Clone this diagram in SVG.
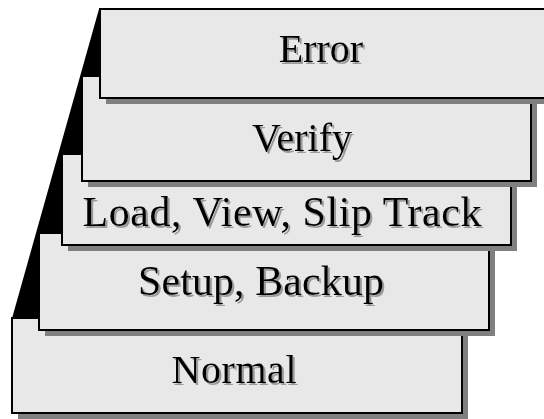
<svg xmlns="http://www.w3.org/2000/svg" width="544" height="419" viewBox="0 0 544 419">
<style>
.box{fill:#e8e8e8;stroke:#000;stroke-width:2}
.shadow{fill:#808080}
</style>
<defs>
<filter id="tsh" x="-10%" y="-20%" width="130%" height="150%">
<feOffset in="SourceAlpha" dx="2" dy="2" result="o"/>
<feFlood flood-color="#9a9a9a"/>
<feComposite in2="o" operator="in" result="s"/>
<feMerge><feMergeNode in="s"/><feMergeNode in="SourceGraphic"/></feMerge>
</filter>
</defs>
<rect width="544" height="419" fill="#fff"/>
<polygon id="wedge" points="99,9 11,322 100,322" fill="#000"/>
<g font-family="Liberation Serif, Times New Roman, DejaVu Serif, serif" font-size="40" text-anchor="middle" fill="#000">
<g id="normal">
<rect class="shadow" x="18" y="324" width="450" height="95"/>
<rect class="box" x="12" y="318" width="450" height="95"/>
<text x="234" y="383" filter="url(#tsh)" textLength="125">Normal</text>
</g>
<g id="setup">
<rect class="shadow" x="45" y="239" width="450" height="97"/>
<rect class="box" x="39" y="233" width="450" height="97"/>
<text x="261" y="295" font-size="42" filter="url(#tsh)" textLength="246">Setup, Backup</text>
</g>
<g id="load">
<rect class="shadow" x="68" y="160" width="449" height="91"/>
<rect class="box" x="62" y="154" width="449" height="91"/>
<text x="282" y="226" font-size="42" filter="url(#tsh)" textLength="399">Load, View, Slip Track</text>
</g>
<g id="verify">
<rect class="shadow" x="88" y="82" width="449" height="105"/>
<rect class="box" x="82" y="76" width="449" height="105"/>
<text x="302" y="151" filter="url(#tsh)">Verify</text>
</g>
<g id="error">
<rect class="shadow" x="106" y="15" width="460" height="89"/>
<rect class="box" x="100" y="9" width="460" height="89"/>
<text x="321" y="62" filter="url(#tsh)">Error</text>
</g>
</g>
<g id="connectors"/>
</svg>
